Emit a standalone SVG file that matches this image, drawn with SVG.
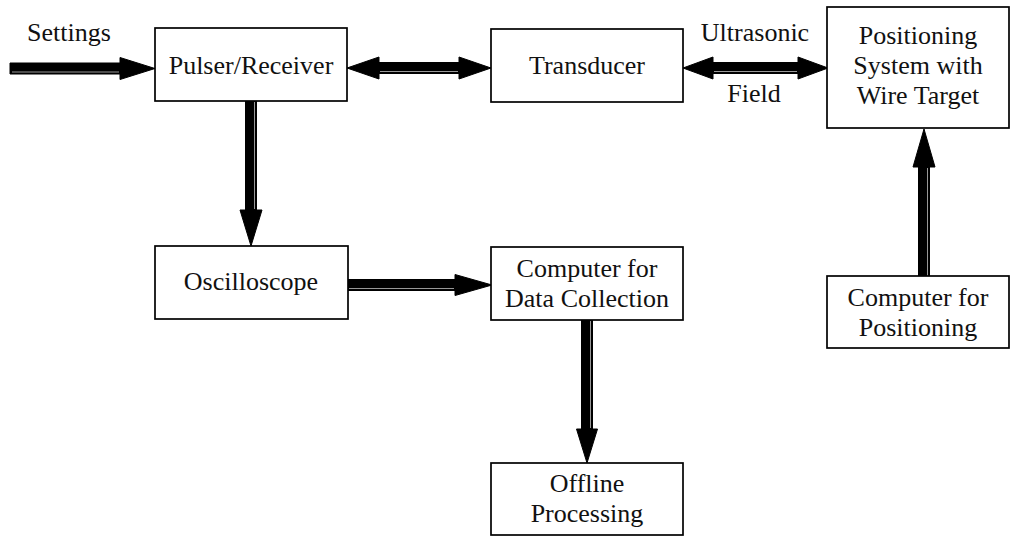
<svg xmlns="http://www.w3.org/2000/svg" width="1011" height="536" viewBox="0 0 1011 536">
<style>
.box{fill:#fff;stroke:#000;stroke-width:1.7}
text{font-family:'Liberation Serif','DejaVu Serif','Times New Roman',serif;font-size:26px;fill:#111;text-anchor:middle}
.arr{fill:#000;stroke:#000;stroke-width:1;stroke-linejoin:miter}
.hl{stroke:#fff;stroke-width:0.6;fill:none}
</style>
<rect width="1011" height="536" fill="#fff"/>
<g id="connectors">
<polygon class="arr" points="10,63 120,63 120,57.5 155,68.5 120,79.5 120,74 10,74"/>
<line class="hl" x1="12" y1="72" x2="119" y2="72"/>
<polygon class="arr" points="347,68 379,57 379,62.5 459,62.5 459,57 491,68 459,79 459,73.5 379,73.5 379,79"/>
<line class="hl" x1="380" y1="71.5" x2="458" y2="71.5"/>
<polygon class="arr" points="683,68 713,57 713,62.5 798,62.5 798,57 828,68 798,79 798,73.5 713,73.5 713,79"/>
<line class="hl" x1="714" y1="71.5" x2="797" y2="71.5"/>
<polygon class="arr" points="245.5,101 256.5,101 256.5,210 262,210 251,246 240,210 245.5,210"/>
<line class="hl" x1="254.5" y1="102" x2="254.5" y2="209"/>
<polygon class="arr" points="348,279.5 455,279.5 455,274.5 492,285 455,295.5 455,290.5 348,290.5"/>
<line class="hl" x1="349" y1="288.5" x2="454" y2="288.5"/>
<polygon class="arr" points="581.5,320 592.5,320 592.5,429 597.5,429 587,463 576.5,429 581.5,429"/>
<line class="hl" x1="590.5" y1="321" x2="590.5" y2="428"/>
<polygon class="arr" points="918.5,277 929.5,277 929.5,167 935,167 924,129 913,167 918.5,167"/>
<line class="hl" x1="927.5" y1="276" x2="927.5" y2="168"/>
</g>
<g id="settings"><text x="27" y="41" style="text-anchor:start">Settings</text></g>
<g id="pulser"><rect class="box" x="155" y="28" width="192" height="73"/><text x="251" y="74">Pulser/Receiver</text></g>
<g id="transducer"><rect class="box" x="491" y="29" width="192" height="73"/><text x="587" y="74">Transducer</text></g>
<g id="field-label"><text x="755" y="41">Ultrasonic</text><text x="754" y="102">Field</text></g>
<g id="positioning"><rect class="box" x="827" y="7" width="182" height="121"/><text x="918" y="44">Positioning</text><text x="918" y="74">System with</text><text x="918" y="104">Wire Target</text></g>
<g id="oscilloscope"><rect class="box" x="155" y="246" width="193" height="73"/><text x="251" y="290">Oscilloscope</text></g>
<g id="computer-data"><rect class="box" x="491" y="247" width="192" height="73"/><text x="587" y="277">Computer for</text><text x="587" y="307">Data Collection</text></g>
<g id="offline"><rect class="box" x="491" y="463" width="192" height="72"/><text x="587" y="492">Offline</text><text x="587" y="522">Processing</text></g>
<g id="computer-pos"><rect class="box" x="827" y="276" width="182" height="72"/><text x="918" y="306">Computer for</text><text x="918" y="336">Positioning</text></g>
</svg>
